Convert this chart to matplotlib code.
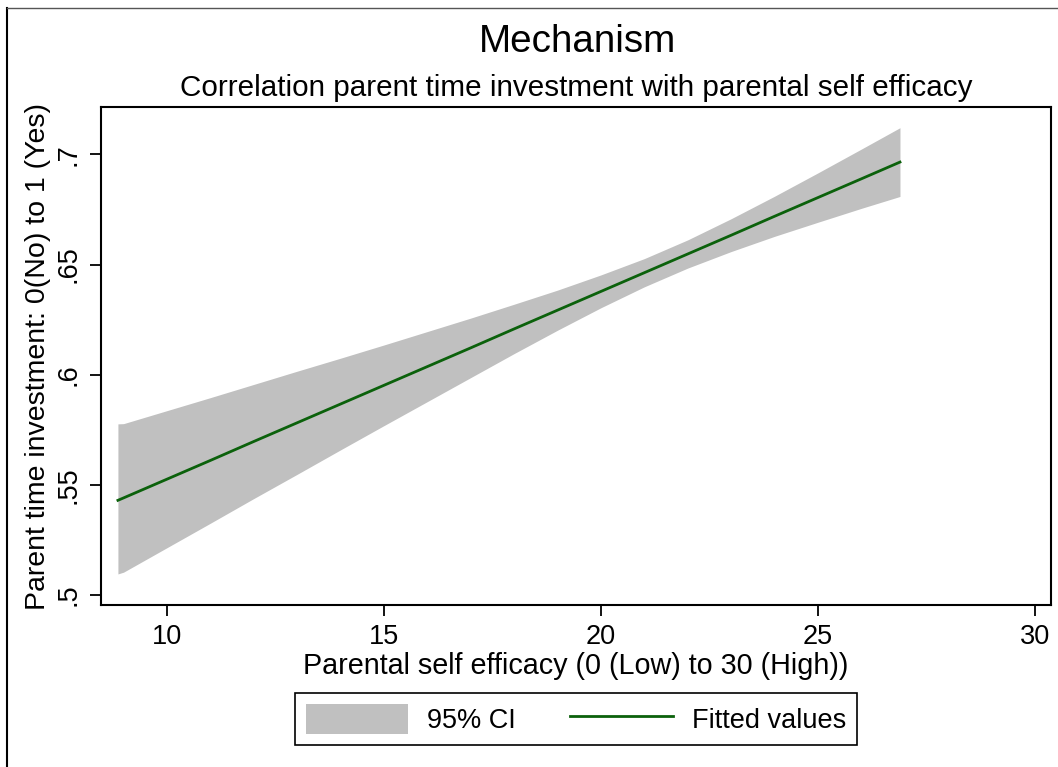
import matplotlib
matplotlib.use("Agg")
import matplotlib.pyplot as plt
from matplotlib.patches import Patch
from matplotlib.lines import Line2D

plt.rcParams['font.family'] = ['Liberation Sans', 'DejaVu Sans']

# Data
x_vals = [8.87, 9, 10, 11, 12, 13, 14, 15, 16, 17, 18, 19, 20, 21, 22, 23, 24, 25, 26, 26.89]
fitted = [0.5430, 0.5441, 0.5526, 0.5611, 0.5697, 0.5782, 0.5867, 0.5952, 0.6037, 0.6122,
          0.6208, 0.6293, 0.6378, 0.6463, 0.6548, 0.6633, 0.6719, 0.6804, 0.6889, 0.6965]
ci_upper = [0.5777, 0.5778, 0.5837, 0.5896, 0.5956, 0.6016, 0.6075, 0.6135, 0.6196, 0.6257,
            0.6320, 0.6384, 0.6453, 0.6527, 0.6612, 0.6708, 0.6810, 0.6916, 0.7024, 0.7121]
ci_lower = [0.5096, 0.5104, 0.5215, 0.5326, 0.5438, 0.5548, 0.5659, 0.5769, 0.5878, 0.5987,
            0.6096, 0.6202, 0.6304, 0.6399, 0.6484, 0.6559, 0.6628, 0.6692, 0.6755, 0.6809]

x_ticks = [10, 15, 20, 25, 30]
y_ticks = [0.5, 0.55, 0.6, 0.65, 0.7]
y_tick_labels = ['.5', '.55', '.6', '.65', '.7']

title = 'Mechanism'
subtitle = 'Correlation parent time investment with parental self efficacy'
x_label = 'Parental self efficacy (0 (Low) to 30 (High))'
y_label = 'Parent time investment: 0(No) to 1 (Yes)'

W, H = 1058, 767
fig = plt.figure(figsize=(W / 100, H / 100), dpi=100)
fig.patch.set_facecolor('white')

L, R, T, B = 101, 1051, 107, 605
ax = fig.add_axes([L / W, 1 - B / H, (R - L) / W, (B - T) / H])

fill_color = '#c0c0c0'
line_color = '#0b610b'

ax.fill_between(x_vals, ci_lower, ci_upper, color=fill_color, lw=0)
ax.plot(x_vals, fitted, color=line_color, lw=2)

ax.set_xlim(8.48, 30.37)
ax.set_ylim(0.4955, 0.7215)

ax.set_xticks(x_ticks)
ax.set_xticklabels([str(t) for t in x_ticks], fontsize=19.5)
ax.set_yticks(y_ticks)
ax.set_yticklabels(y_tick_labels, fontsize=19.5, rotation=90, va='center')

ax.tick_params(axis='both', length=8, width=1.3, color='black', pad=6)
for sp in ax.spines.values():
    sp.set_linewidth(1.5)
    sp.set_color('black')

ax.set_xlabel(x_label, fontsize=20.7, labelpad=1)
ax.set_ylabel(y_label, fontsize=20.5, labelpad=3)

fig.text(577 / W, 1 - 42 / H, title, ha='center', va='center', fontsize=27.8)
fig.text(576 / W, 1 - 88 / H, subtitle, ha='center', va='center', fontsize=21.3)

handles = [Patch(facecolor=fill_color, edgecolor='none'),
           Line2D([0], [0], color=line_color, lw=2)]
leg = fig.legend(handles, ['95% CI', 'Fitted values'], ncol=2,
                 loc='center', bbox_to_anchor=(576 / W, 1 - 719 / H),
                 fontsize=19.5, frameon=True, fancybox=False, framealpha=1,
                 edgecolor='black', handlelength=3.8, handleheight=1.3,
                 handletextpad=0.7, columnspacing=2.0, borderpad=0.4,
                 borderaxespad=0)
leg.get_frame().set_linewidth(1.2)

# outer graph-region border (left and top visible)
fig.add_artist(Line2D([7 / W, 7 / W], [0, 1 - 8 / H], color='black', lw=1.5,
                      transform=fig.transFigure))
fig.add_artist(Line2D([7 / W, 1], [1 - 8 / H, 1 - 8 / H], color='#555555', lw=1,
                      transform=fig.transFigure))

fig.savefig('out.png', dpi=100)
